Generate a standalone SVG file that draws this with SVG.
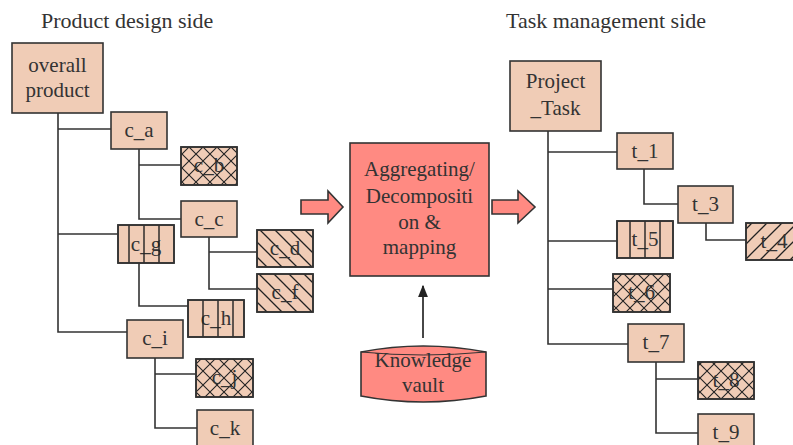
<svg xmlns="http://www.w3.org/2000/svg" width="793" height="445" viewBox="0 0 793 445">
<style>
.t{font-family:"Liberation Serif","Times New Roman",serif;font-size:21px;fill:#333;text-anchor:middle}
.h{font-family:"Liberation Serif","Times New Roman",serif;font-size:22px;fill:#333}
.n{fill:#F0CCB6;stroke:#333;stroke-width:1.6}
.o{fill:none;stroke:#333;stroke-width:1.6}
.c{fill:none;stroke:#333;stroke-width:1.6}
.s{fill:#FF8A82;stroke:#333;stroke-width:1.6}
.x{fill:url(#cross)}
.d{fill:url(#diag)}
.f{fill:url(#fwd)}
.v{stroke:#222;stroke-width:1.4}
</style>
<defs>
<pattern id="cross" patternUnits="userSpaceOnUse" width="14" height="14">
<path d="M0,0L14,14M14,0L0,14" stroke="#222" stroke-width="1.1"/>
</pattern>
<pattern id="diag" patternUnits="userSpaceOnUse" width="15" height="15">
<path d="M-4,-4L19,19M-4,11L4,19M11,-4L19,4" stroke="#222" stroke-width="1.3"/>
</pattern>
<pattern id="fwd" patternUnits="userSpaceOnUse" width="15" height="15">
<path d="M-4,19L19,-4M-4,4L4,-4M11,19L19,11" stroke="#222" stroke-width="1.3"/>
</pattern>
<marker id="ah" viewBox="0 0 10 10" refX="9" refY="5" markerWidth="7" markerHeight="7" orient="auto">
<path d="M0,1L10,5L0,9Z" fill="#222"/>
</marker>
</defs>
<rect width="793" height="445" fill="#fff"/>
<text class="h" x="41" y="28">Product design side</text>
<text class="h" x="506" y="28">Task management side</text>

<g id="connectors">
<path class="c" d="M58,113V332H127M58,129H111M58,234H118"/>
<path class="c" d="M139,149V219H181M139,165H181"/>
<path class="c" d="M139,263V306H188"/>
<path class="c" d="M209,237V289H257M209,252H257"/>
<path class="c" d="M155,358V428H197M155,374H196"/>
<path class="c" d="M548,131V344H628M548,152H617M548,241H617M548,289H613"/>
<path class="c" d="M644,169V204H678"/>
<path class="c" d="M706,223V240H746"/>
<path class="c" d="M656,362V433H698M656,379H698"/>
<path d="M423,338V286" stroke="#333" stroke-width="1.8" marker-end="url(#ah)"/>
<polygon class="s" points="301,200 328,200 328,191 343,207 328,223 328,214 301,214"/>
<polygon class="s" points="492,200 518,200 518,191 535,207 518,223 518,214 492,214"/>
</g>

<g id="overall"><rect class="n" x="12" y="43" width="91" height="70"/><text class="t" x="57.5" y="72">overall</text><text class="t" x="57.5" y="97">product</text></g>
<g id="c_a"><rect class="n" x="111" y="112" width="56" height="37"/><text class="t" x="139" y="137">c_a</text></g>
<g id="c_b"><rect class="n" x="181" y="147" width="56" height="38"/><rect class="x" x="181" y="147" width="56" height="38"/><text class="t" x="209" y="172">c_b</text><rect class="o" x="181" y="147" width="56" height="38"/></g>
<g id="c_c"><rect class="n" x="181" y="201" width="56" height="36"/><text class="t" x="209" y="226">c_c</text></g>
<g id="c_g"><rect class="n" x="118" y="225" width="56" height="38"/><text class="t" x="146" y="251">c_g</text><path class="v" d="M129,225V263M144,225V263M159,225V263"/><rect class="o" x="118" y="225" width="56" height="38"/></g>
<g id="c_d"><rect class="n" x="257" y="230" width="56" height="37"/><rect class="d" x="257" y="230" width="56" height="37"/><text class="t" x="285" y="255">c_d</text><rect class="o" x="257" y="230" width="56" height="37"/></g>
<g id="c_f"><rect class="n" x="257" y="274" width="56" height="38"/><rect class="d" x="257" y="274" width="56" height="38"/><text class="t" x="285" y="299">c_f</text><rect class="o" x="257" y="274" width="56" height="38"/></g>
<g id="c_h"><rect class="n" x="188" y="300" width="56" height="37"/><text class="t" x="216" y="325">c_h</text><path class="v" d="M203,300V337M218,300V337M233,300V337"/><rect class="o" x="188" y="300" width="56" height="37"/></g>
<g id="c_i"><rect class="n" x="127" y="320" width="56" height="38"/><text class="t" x="155" y="345">c_i</text></g>
<g id="c_j"><rect class="n" x="196" y="359" width="57" height="38"/><rect class="x" x="196" y="359" width="57" height="38"/><text class="t" x="224.5" y="384">c_j</text><rect class="o" x="196" y="359" width="57" height="38"/></g>
<g id="c_k"><rect class="n" x="197" y="410" width="56" height="38"/><text class="t" x="225" y="435">c_k</text></g>

<g id="center"><rect class="s" x="350" y="143" width="139" height="133"/><text class="t" x="419.5" y="176">Aggregating/</text><text class="t" x="419.5" y="203">Decompositi</text><text class="t" x="419.5" y="229">on &amp;</text><text class="t" x="419.5" y="254">mapping</text></g>
<g id="vault"><path class="s" d="M361,352Q423,340 486,352V396Q423,408 361,396Z"/><path d="M361,352Q423,358 486,352" fill="none" stroke="#333" stroke-width="1"/><text class="t" x="423" y="367">Knowledge</text><text class="t" x="423" y="392">vault</text></g>

<g id="project"><rect class="n" x="510" y="61" width="91" height="70"/><text class="t" x="555.5" y="88">Project</text><text class="t" x="555.5" y="115">_Task</text></g>
<g id="t_1"><rect class="n" x="617" y="133" width="56" height="36"/><text class="t" x="645" y="158">t_1</text></g>
<g id="t_3"><rect class="n" x="678" y="186" width="55" height="37"/><text class="t" x="705.5" y="211">t_3</text></g>
<g id="t_4"><rect class="n" x="746" y="223" width="56" height="37"/><rect class="f" x="746" y="223" width="56" height="37"/><text class="t" x="774" y="248">t_4</text><rect class="o" x="746" y="223" width="56" height="37"/></g>
<g id="t_5"><rect class="n" x="617" y="221" width="56" height="37"/><text class="t" x="645" y="246">t_5</text><path class="v" d="M630,221V258M645,221V258M660,221V258"/><rect class="o" x="617" y="221" width="56" height="37"/></g>
<g id="t_6"><rect class="n" x="613" y="274" width="57" height="38"/><rect class="x" x="613" y="274" width="57" height="38"/><text class="t" x="641.5" y="299">t_6</text><rect class="o" x="613" y="274" width="57" height="38"/></g>
<g id="t_7"><rect class="n" x="628" y="324" width="56" height="38"/><text class="t" x="656" y="349">t_7</text></g>
<g id="t_8"><rect class="n" x="698" y="362" width="56" height="37"/><rect class="x" x="698" y="362" width="56" height="37"/><text class="t" x="726" y="387">t_8</text><rect class="o" x="698" y="362" width="56" height="37"/></g>
<g id="t_9"><rect class="n" x="698" y="414" width="56" height="38"/><text class="t" x="726" y="439">t_9</text></g>
</svg>
